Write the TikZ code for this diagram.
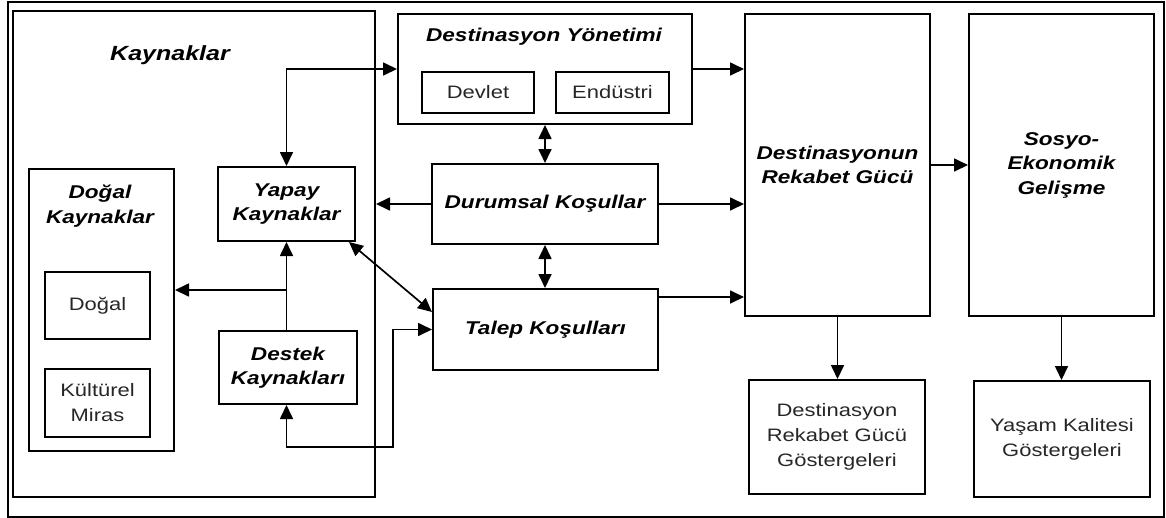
\documentclass[tikz,border=0pt]{standalone}
\usepackage{fontspec}
\setmainfont{Liberation Sans}[FakeStretch=1.22]
\usetikzlibrary{arrows.meta}
\begin{document}
\begin{tikzpicture}[x=1pt,y=-1pt,
  box/.style={draw, line width=2pt, inner sep=0pt, anchor=north west},
  hd/.style={font=\fontsize{18.5}{24.5}\selectfont\bfseries\itshape, align=center},
  rg/.style={font=\fontsize{18}{25}\selectfont, align=center, text=black!85},
  arr/.style={line width=1.7pt, -{Triangle[length=14pt,width=13pt]}},
  darr/.style={line width=1.7pt, {Triangle[length=14pt,width=13pt]}-{Triangle[length=14pt,width=13pt]}}]
\useasboundingbox (0,0) rectangle (1166,517);
% frames
\node[box, minimum width=1156pt, minimum height=515pt] (frame) at (7,1) {};
\node[box, minimum width=362pt, minimum height=486pt] (kay) at (12,10) {};
\node[hd, font=\fontsize{20.5}{24}\selectfont\bfseries\itshape] (kayt) at (170,55) {Kaynaklar};
% dogal kaynaklar
\node[box, minimum width=145pt, minimum height=282pt] (dogk) at (28,168) {};
\node[hd] (dogkt) at (100,206) {Doğal\\Kaynaklar};
\node[box, rg, minimum width=105pt, minimum height=67pt] (dogal) at (44,271) {Doğal};
\node[box, rg, minimum width=105pt, minimum height=68pt] (kult) at (44,368) {Kültürel\\Miras};
% yapay / destek
\node[box, hd, minimum width=137pt, minimum height=74pt] (yapay) at (217,166) {Yapay\\Kaynaklar};
\node[box, hd, minimum width=138pt, minimum height=73pt] (destek) at (218,330) {Destek\\Kaynakları};
% destinasyon yonetimi
\node[box, minimum width=294pt, minimum height=110pt] (dy) at (397,13) {};
\node[hd] (dyt) at (544,37) {Destinasyon Yönetimi};
\node[box, rg, minimum width=112pt, minimum height=41pt] (devlet) at (421,71) {Devlet};
\node[box, rg, minimum width=113pt, minimum height=41pt] (endustri) at (555,71) {Endüstri};
% kosullar
\node[box, hd, minimum width=226pt, minimum height=80pt] (dk) at (431,163) {Durumsal Koşullar};
\node[box, hd, minimum width=225pt, minimum height=81pt] (tk) at (432,288) {Talep Koşulları};
% right side
\node[box, hd, minimum width=185pt, minimum height=302pt] (drg) at (744,13) {Destinasyonun\\Rekabet Gücü};
\node[box, hd, minimum width=185pt, minimum height=302pt] (seg) at (968,13) {Sosyo-\\Ekonomik\\Gelişme};
\node[box, rg, minimum width=176pt, minimum height=114pt] (drgg) at (748,379) {Destinasyon\\Rekabet Gücü\\Göstergeleri};
\node[box, rg, minimum width=176pt, minimum height=116pt] (ykg) at (973,380) {Yaşam Kalitesi\\Göstergeleri};
% coordinates
\coordinate (br) at (285.5,290);
\coordinate (c1) at (393,447);
% connectors
\draw[darr] (yapay.north) |- (dy.west);
\draw[arr] (dy.east) -- (dy.east -| drg.west);
\draw[darr] (dy.south) -- (dy.south |- dk.north);
\draw[arr] (dk.west) -- (dk.west -| kay.east);
\draw[arr] (dk.east) -- (dk.east -| drg.west);
\draw[darr] (dk.south) -- (dk.south |- tk.north);
\draw[arr] ([yshift=-9pt]tk.north east) -- ([yshift=-9pt]tk.north east -| drg.west);
\draw[darr] ([xshift=-7pt]yapay.south east) -- ([yshift=-24pt]tk.north west);
\draw[darr] (destek.south -| yapay.south) |- (c1) |- (tk.west);
\draw[arr] (destek.north -| yapay.south) -- (yapay.south);
\draw[arr] (br) -- (br -| dogk.east);
\draw[arr] (drg.east) -- (seg.west);
\draw[arr] (drg.south) -- (drg.south |- drgg.north);
\draw[arr] (seg.south) -- (seg.south |- ykg.north);
\end{tikzpicture}
\end{document}
